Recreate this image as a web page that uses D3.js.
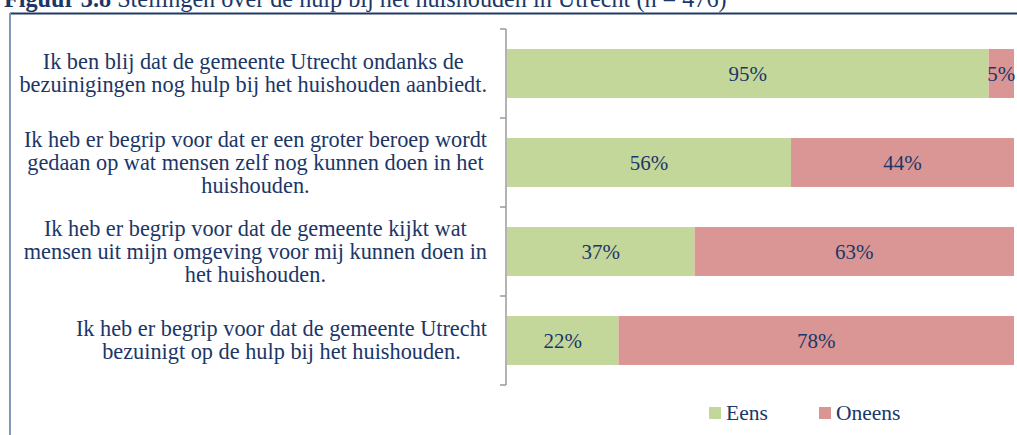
<!DOCTYPE html>
<html><head><meta charset="utf-8">
<script src="https://cdn.jsdelivr.net/npm/d3@7"></script>
<style>body{margin:0;background:#fff;overflow:hidden}svg{display:block}</style>
</head><body><svg id="c" width="1017" height="435" font-family="'Times New Roman', 'Liberation Serif', Tinos, 'DejaVu Serif', serif"></svg>
<script>
const categories = [
  ["Ik ben blij dat de gemeente Utrecht ondanks de", "bezuinigingen nog hulp bij het huishouden aanbiedt."],
  ["Ik heb er begrip voor dat er een groter beroep wordt", "gedaan op wat mensen zelf nog kunnen doen in het", "huishouden."],
  ["Ik heb er begrip voor dat de gemeente kijkt wat", "mensen uit mijn omgeving voor mij kunnen doen in", "het huishouden."],
  ["Ik heb er begrip voor dat de gemeente Utrecht", "bezuinigt op de hulp bij het huishouden."]
];
const seriesNames = ["Eens", "Oneens"];
const eens = [95, 56, 37, 22];
const oneens = [5, 44, 63, 78];
const colors = ["#c4d79b", "#da9694"];
const textColor = "#1b3668";

const svg = d3.select("#c");
const keys = categories.map((c, i) => "c" + i);
const y = d3.scaleBand().domain(keys).range([29, 385]).paddingInner(0.45).paddingOuter(0.225);
const x = d3.scaleLinear().domain([0, 100]).range([507, 1014]);

// title
const t = svg.append("text").attr("x", 4).attr("y", 7).attr("font-size", 24.2).attr("fill", textColor);
t.append("tspan").attr("font-weight", "bold").text("Figuur 3.8");
t.append("tspan").text(" Stellingen over de hulp bij het huishouden in Utrecht (n = 476)");

// frame lines
svg.append("line").attr("x1", 10).attr("x2", 1017).attr("y1", 13.5).attr("y2", 13.5).attr("stroke", "#1f3864").attr("stroke-width", 2);
svg.append("line").attr("x1", 10).attr("x2", 10).attr("y1", 13).attr("y2", 435).attr("stroke", "#8497b8").attr("stroke-width", 2);

// bars
const stackData = keys.map((k, i) => ({ key: k, Eens: eens[i], Oneens: oneens[i] }));
const stack = d3.stack().keys(seriesNames)(stackData);
stack.forEach((s, si) => {
  const g = svg.append("g");
  g.selectAll("rect").data(s).join("rect")
    .attr("x", d => x(d[0])).attr("width", d => x(d[1]) - x(d[0]))
    .attr("y", d => y(d.data.key)).attr("height", y.bandwidth())
    .attr("fill", colors[si]);
  g.selectAll("text").data(s).join("text")
    .attr("x", d => (x(d[0]) + x(d[1])) / 2)
    .attr("y", d => y(d.data.key) + y.bandwidth() / 2)
    .attr("dy", "0.35em").attr("text-anchor", "middle")
    .attr("font-size", 21).attr("fill", textColor)
    .text(d => (d[1] - d[0]) + "%");
});

// axis
const step = y.step();
svg.append("line").attr("x1", 506).attr("x2", 506).attr("y1", 29).attr("y2", 385).attr("stroke", "#9a9a9a").attr("stroke-width", 1.5);
const ticks = keys.map(k => y(k) - step * y.paddingInner() / 2).concat([y(keys[keys.length - 1]) + y.bandwidth() + step * y.paddingInner() / 2]);
svg.selectAll(".tk").data(ticks).join("line").attr("class", "tk")
  .attr("x1", 500).attr("x2", 506).attr("y1", d => d).attr("y2", d => d)
  .attr("stroke", "#9a9a9a").attr("stroke-width", 1.5);

// category labels: block right-aligned at 487, lines centered within block
const lh = 23;
categories.forEach((lines, i) => {
  const cy = y(keys[i]) + y.bandwidth() / 2;
  const g = svg.append("g");
  const tx = g.selectAll("text").data(lines).join("text")
    .attr("font-size", 22.3).attr("fill", textColor).attr("text-anchor", "middle")
    .attr("y", (d, j) => cy + (j - (lines.length - 1) / 2) * lh + 7)
    .text(d => d);
  let maxW = 0;
  tx.each(function () { maxW = Math.max(maxW, this.getComputedTextLength()); });
  tx.attr("x", 487 - maxW / 2);
});

// legend
const lg = svg.append("g");
const lx = [709, 819];
seriesNames.forEach((n, i) => {
  lg.append("rect").attr("x", lx[i]).attr("y", 407).attr("width", 12).attr("height", 12).attr("fill", colors[i]);
  lg.append("text").attr("x", lx[i] + 17).attr("y", 420).attr("font-size", 21.5).attr("fill", textColor).text(n);
});
</script></body></html>
